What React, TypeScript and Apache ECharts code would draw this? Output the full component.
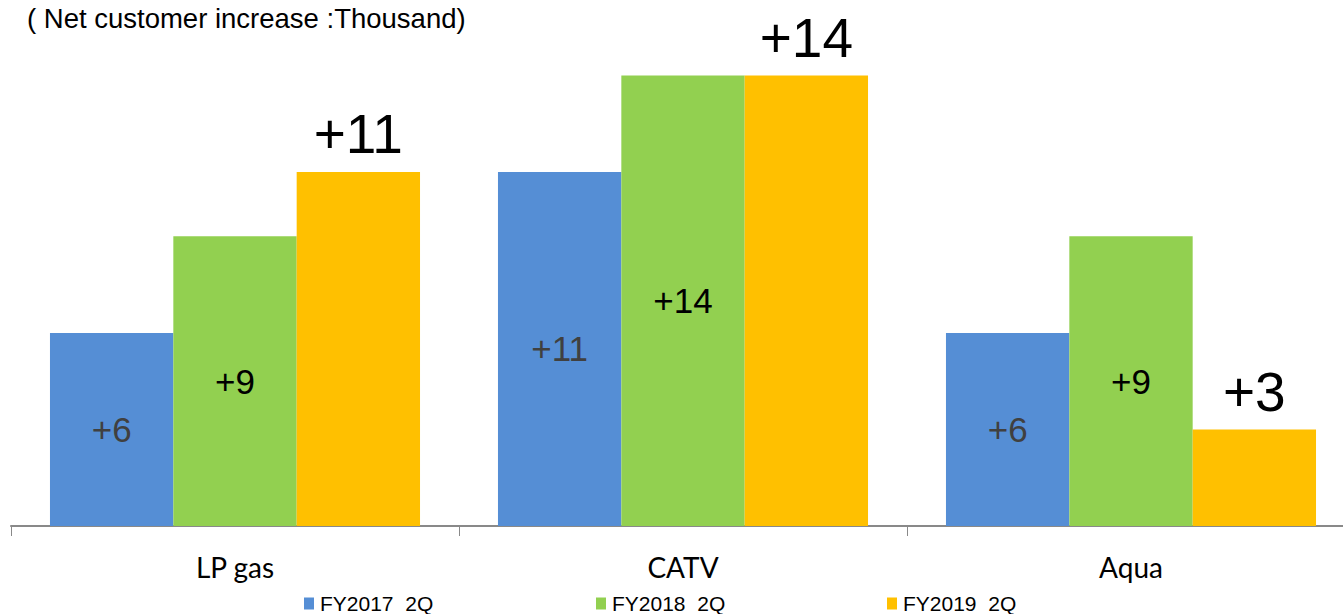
import React, { useEffect, useRef } from "react";
import * as echarts from "echarts";

// Net customer increase by business (thousand customers)
const categories = ["LP gas", "CATV", "Aqua"];
const seriesNames = ["FY2017  2Q", "FY2018  2Q", "FY2019  2Q"];
const fy2017 = [6, 11, 6];
const fy2018 = [9, 14, 9];
const fy2019 = [11, 14, 3];

const colors = ["#558ED5", "#92D050", "#FFC000"];
const legendLeft = [304, 596, 887];

export default function App() {
  const ref = useRef<HTMLDivElement>(null);

  useEffect(() => {
    document.body.style.margin = "0";
    document.body.style.overflow = "hidden";
    if (!ref.current) return;
    const chart = echarts.init(ref.current, undefined, { renderer: "svg" });

    const values = [fy2017, fy2018, fy2019];
    const labelFont = "Liberation Sans, Arial, sans-serif";

    const series = values.map((data, i) => ({
      name: seriesNames[i],
      type: "bar",
      data,
      barGap: "0%",
      barCategoryGap: "17.4%",
      itemStyle: { color: colors[i] },
      label:
        i < 2
          ? {
              show: true,
              position: "inside",
              formatter: "+{c}",
              fontSize: 35,
              fontFamily: labelFont,
              color: i === 0 ? "#404040" : "#000000",
            }
          : {
              show: true,
              position: "top",
              distance: 10,
              formatter: "+{c}",
              fontSize: 55,
              fontFamily: labelFont,
              color: "#000000",
            },
    }));

    chart.setOption({
      animation: false,
      title: {
        text: "( Net customer increase :Thousand)",
        left: 27,
        top: 4,
        padding: 0,
        textStyle: {
          fontSize: 27.5,
          fontWeight: "normal",
          fontFamily: labelFont,
          color: "#000000",
        },
      },
      legend: values.map((_, i) => ({
        data: [seriesNames[i]],
        left: legendLeft[i],
        top: 593,
        padding: 0,
        icon: "rect",
        itemWidth: 10,
        itemHeight: 12,
        itemGap: 0,
        textStyle: {
          fontSize: 21,
          fontFamily: labelFont,
          color: "#000000",
          padding: [0, 0, 0, 1],
        },
      })),
      grid: { left: 11, right: 0, top: 11, bottom: 88 },
      xAxis: {
        type: "category",
        data: categories,
        axisLine: { lineStyle: { color: "#898989", width: 2 } },
        axisTick: { show: true, length: 10, lineStyle: { color: "#898989", width: 1 } },
        axisLabel: {
          fontSize: 28,
          fontFamily: "Lato, Open Sans, sans-serif",
          color: "#000000",
          margin: 27,
        },
      },
      yAxis: {
        type: "value",
        min: 0,
        max: 16,
        show: false,
        splitLine: { show: false },
      },
      series,
    });

    return () => chart.dispose();
  }, []);

  // The drawing is a little wider than the window so the last category runs off the right edge.
  return <div ref={ref} style={{ width: 1355, height: 614 }} />;
}
